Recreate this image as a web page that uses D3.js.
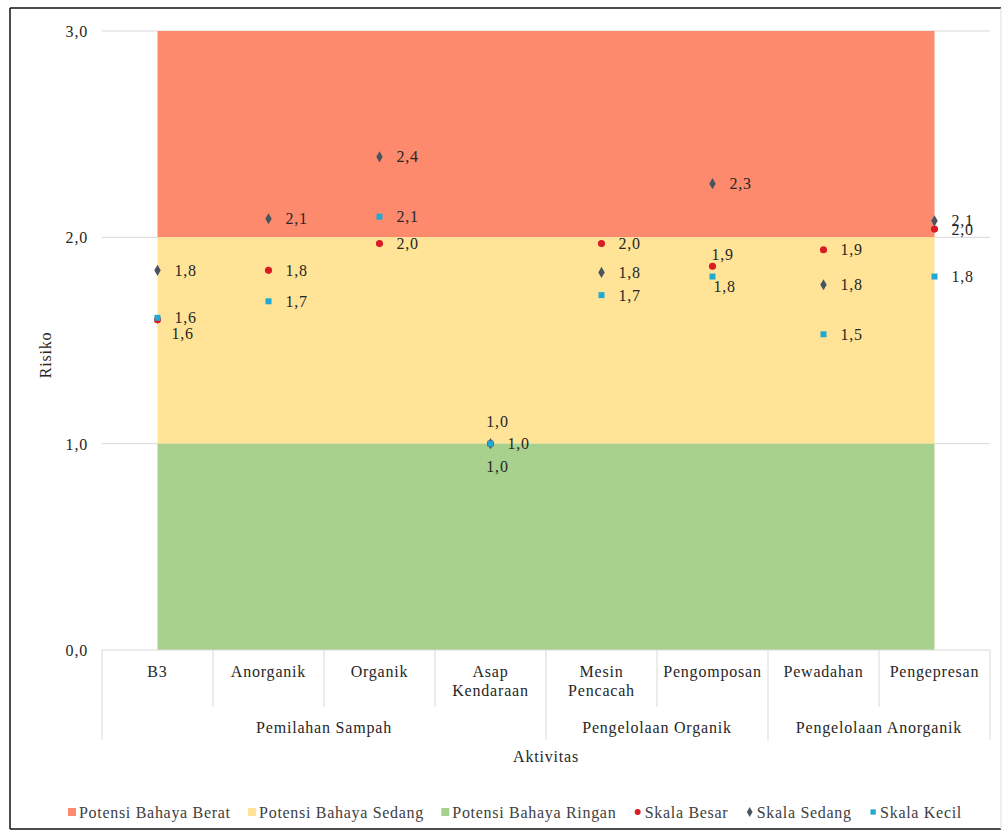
<!DOCTYPE html>
<html>
<head>
<meta charset="utf-8">
<script src="https://cdn.jsdelivr.net/npm/d3@7/dist/d3.min.js"></script>
<style>
  html, body { margin: 0; padding: 0; background: #fff; }
</style>
</head>
<body>
<svg id="chart" width="1005" height="831"></svg>
<script>
// Activities on the category axis and their parent groups
const categories = ["B3", "Anorganik", "Organik", "Asap Kendaraan", "Mesin Pencacah", "Pengomposan", "Pewadahan", "Pengepresan"];
const groups = ["Pemilahan Sampah", "Pengelolaan Organik", "Pengelolaan Anorganik"];
const groupSizes = [4, 2, 2];

// Risk scores per scale
const skalaBesar  = [1.60, 1.84, 1.97, 1.00, 1.97, 1.86, 1.94, 2.04];
const skalaSedang = [1.84, 2.09, 2.39, 1.00, 1.83, 2.26, 1.77, 2.08];
const skalaKecil  = [1.61, 1.69, 2.10, 1.00, 1.72, 1.81, 1.53, 1.81];

// Hazard bands (lower, upper)
const bandNames = ["Potensi Bahaya Berat", "Potensi Bahaya Sedang", "Potensi Bahaya Ringan"];
const bandLower = [2, 1, 0];
const bandUpper = [3, 2, 1];

const yTicks = [0, 1, 2, 3];

// Data label placement per point
const labelBesar  = ["belowRight", "right", "right", "above", "right", "aboveNear", "right", "right"];
const labelSedang = ["right", "right", "right", "right", "right", "right", "right", "right"];
const labelKecil  = ["right", "right", "right", "below", "right", "belowNear", "right", "right"];

const FONT = "'Liberation Serif', Tinos, 'Times New Roman', 'DejaVu Serif', serif";

const bandColors = ["#FE8A6E", "#FFE497", "#A9D18E"];
const series = [
  { name: "Skala Besar",  values: skalaBesar,  labels: labelBesar,  color: "#D91B22", symbol: d3.symbolCircle,  size: 40 },
  { name: "Skala Sedang", values: skalaSedang, labels: labelSedang, color: "#4A5460", symbol: d3.symbolDiamond, size: 36 },
  { name: "Skala Kecil",  values: skalaKecil,  labels: labelKecil,  color: "#22A9D2", symbol: d3.symbolSquare,  size: 36 }
];

const svg = d3.select("#chart");
const fmt = v => d3.format(".1f")(v).replace(".", ",");
const styleText = sel => sel.style("font-family", FONT).style("font-size", "16px")
  .style("letter-spacing", "0.8px").style("fill", "#262626");

const plot = { left: 102, right: 990, top: 31, bottom: 650 };
const x = d3.scaleBand().domain(categories).range([plot.left, plot.right]).padding(0);
const y = d3.scaleLinear().domain([0, 3]).range([plot.bottom, plot.top]);
const cx = c => x(c) + x.bandwidth() / 2;

// Outer frame
svg.append("line").attr("x1", 10).attr("x2", 10).attr("y1", 8).attr("y2", 829).attr("stroke", "#111").attr("stroke-width", 1.5);
svg.append("line").attr("x1", 10).attr("x2", 1001).attr("y1", 8).attr("y2", 8).attr("stroke", "#111").attr("stroke-width", 1.5);
svg.append("line").attr("x1", 10).attr("x2", 1001).attr("y1", 829).attr("y2", 829).attr("stroke", "#111").attr("stroke-width", 1.5);
svg.append("line").attr("x1", 1001).attr("x2", 1001).attr("y1", 8).attr("y2", 829).attr("stroke", "#ddd").attr("stroke-width", 1);

// Gridlines
svg.append("g").selectAll("line").data(yTicks.filter(t => t > 0)).join("line")
  .attr("x1", plot.left).attr("x2", plot.right)
  .attr("y1", d => y(d)).attr("y2", d => y(d))
  .attr("stroke", "#D9D9D9").attr("stroke-width", 1);

// Hazard bands as stacked areas between first and last category centre
const areaGen = d3.area().x(d => cx(d.c)).y0(d => y(d.lo)).y1(d => y(d.hi));
svg.append("g").selectAll("path").data(bandNames).join("path")
  .attr("d", (n, i) => areaGen(categories.map(c => ({ c, lo: bandLower[i], hi: bandUpper[i] }))))
  .attr("fill", (n, i) => bandColors[i]);

// Y axis labels
const yAxis = svg.append("g").attr("transform", `translate(${plot.left - 14},0)`)
  .call(d3.axisLeft(y).tickValues(yTicks).tickFormat(fmt).tickSize(0).tickPadding(0));
yAxis.select(".domain").remove();
yAxis.attr("font-family", null).attr("font-size", null);
yAxis.selectAll("text").attr("dy", "0.35em").call(styleText);

svg.append("text").attr("transform", "translate(51,355) rotate(-90)")
  .attr("text-anchor", "middle").call(styleText).text("Risiko");

// Category axis: multi-level boxes
const axisG = svg.append("g");
const lineColor = "#D9D9D9";
const rowCat = 707, rowGrp = 740;
axisG.append("line").attr("x1", plot.left).attr("x2", plot.right).attr("y1", plot.bottom).attr("y2", plot.bottom).attr("stroke", lineColor);
const groupEdges = [0];
groupSizes.forEach(s => groupEdges.push(groupEdges[groupEdges.length - 1] + s));
d3.range(categories.length + 1).forEach(i => {
  const xx = i < categories.length ? x(categories[i]) : plot.right;
  const isGroupEdge = groupEdges.includes(i);
  axisG.append("line").attr("x1", xx).attr("x2", xx).attr("y1", plot.bottom).attr("y2", isGroupEdge ? rowGrp : rowCat)
    .attr("stroke", lineColor);
});

// Category labels (wrapped)
const catText = axisG.selectAll("text.cat").data(categories).join("text")
  .attr("class", "cat").attr("text-anchor", "middle").call(styleText)
  .attr("x", d => cx(d)).attr("y", 677);
catText.each(function (d) {
  const t = d3.select(this);
  d.split(" ").forEach((w, i) => t.append("tspan").attr("x", cx(d)).attr("dy", i === 0 ? 0 : 19).text(w));
});

// Group labels
let start = 0;
groups.forEach((g, i) => {
  const x0 = x(categories[start]);
  const last = categories[start + groupSizes[i] - 1];
  const x1 = x(last) + x.bandwidth();
  axisG.append("text").attr("x", (x0 + x1) / 2).attr("y", 733).attr("text-anchor", "middle")
    .call(styleText).text(g);
  start += groupSizes[i];
});

svg.append("text").attr("x", 546).attr("y", 762).attr("text-anchor", "middle")
  .call(styleText).text("Aktivitas");

// Points
const ptsG = svg.append("g");
series.forEach(s => {
  ptsG.append("g").selectAll("path").data(categories).join("path")
    .attr("transform", (c, i) => `translate(${cx(c)},${y(s.values[i])})`)
    .attr("d", d3.symbol().type(s.symbol).size(s.size)())
    .attr("fill", s.color);
});

// Data labels
const placements = {
  right:      { dx: 17, dy: 0,   anchor: "start" },
  belowRight: { dx: 14, dy: 14,  anchor: "start" },
  above:      { dx: 7,  dy: -22, anchor: "middle" },
  below:      { dx: 7,  dy: 23,  anchor: "middle" },
  aboveNear:  { dx: -1, dy: -12, anchor: "start" },
  belowNear:  { dx: 1,  dy: 10,  anchor: "start" }
};
const lblG = svg.append("g");
series.forEach(s => {
  lblG.append("g").selectAll("text").data(categories).join("text")
    .each(function (c, i) {
      const p = placements[s.labels[i]];
      d3.select(this)
        .attr("x", cx(c) + p.dx).attr("y", y(s.values[i]) + p.dy)
        .attr("dy", "0.35em").attr("text-anchor", p.anchor)
        .call(styleText)
        .text(fmt(s.values[i]));
    });
});

// Legend: items laid out in one row, spread across the frame width
const legendItems = [
  ...bandNames.map((n, i) => ({ name: n, color: bandColors[i], kind: "rect" })),
  ...series.map(s => ({ name: s.name, color: s.color, kind: s.symbol }))
];
const legY = 812, legLeft = 68, legRight = 962, markerW = 8, markerGap = 3;
const leg = svg.append("g");
const items = legendItems.map(it => {
  const g = leg.append("g");
  if (it.kind === "rect") {
    g.append("rect").attr("x", 0).attr("y", legY - 4).attr("width", markerW).attr("height", markerW).attr("fill", it.color);
  } else {
    g.append("path").attr("transform", `translate(${markerW / 2},${legY})`)
      .attr("d", d3.symbol().type(it.kind).size(28)()).attr("fill", it.color);
  }
  const t = g.append("text").attr("x", markerW + markerGap).attr("y", legY).attr("dy", "0.35em")
    .call(styleText).style("font-size", "16px").style("letter-spacing", "0.7px").style("fill", "#404040").text(it.name);
  return { g, w: markerW + markerGap + t.node().getComputedTextLength() };
});
const natural = d3.sum(items, d => d.w);
const gap = Math.max(6, (legRight - legLeft - natural) / (items.length - 1));
let cur = legLeft;
items.forEach(d => { d.g.attr("transform", `translate(${cur},0)`); cur += d.w + gap; });
</script>
</body>
</html>
